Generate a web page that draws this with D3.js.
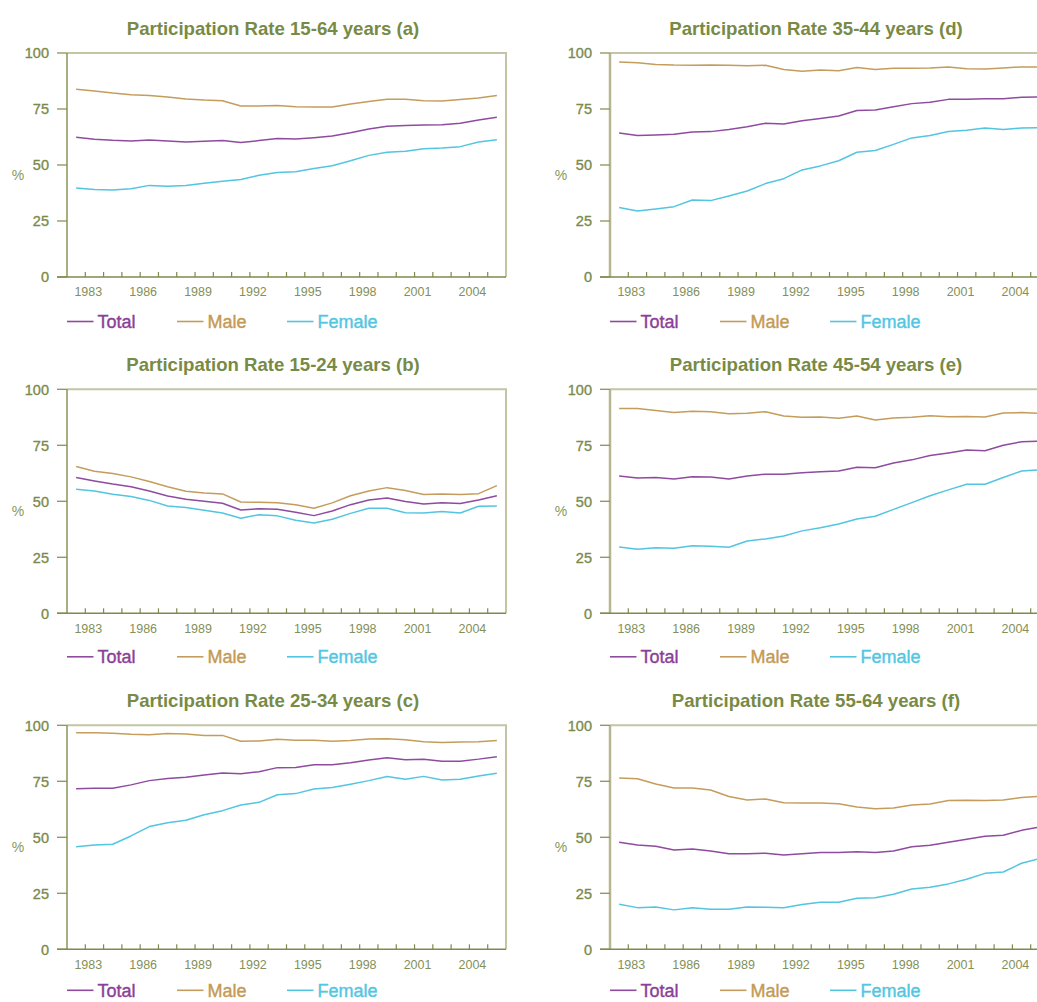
<!DOCTYPE html>
<html>
<head>
<meta charset="utf-8">
<script src="https://cdn.jsdelivr.net/npm/d3@7"></script>
<style>
  html, body { margin: 0; padding: 0; background: #fff; }
  svg { display: block; font-family: "Liberation Sans", Arial, Helvetica, sans-serif; }
</style>
</head>
<body>
<svg id="chart" width="1037" height="1002"></svg>
<script>
// Labour force participation rates by age group, 1982-2005 (%)
const years = d3.range(1982, 2006);
const yearLabels = [1983, 1986, 1989, 1992, 1995, 1998, 2001, 2004];
const yTicks = [0, 25, 50, 75, 100];
const seriesNames = ["Total", "Male", "Female"];

// 15-64 years
const total15_64  = [62.4,61.5,61.0,60.7,61.2,60.7,60.3,60.6,60.9,60.0,60.9,61.8,61.6,62.2,62.9,64.4,66.1,67.3,67.6,67.9,68.0,68.6,70.1,71.3];
const male15_64   = [83.8,83.0,82.1,81.4,81.0,80.4,79.5,79.0,78.7,76.3,76.3,76.6,76.0,75.9,75.9,77.2,78.3,79.3,79.3,78.7,78.6,79.2,79.9,81.0];
const female15_64 = [39.7,39.1,38.8,39.4,40.9,40.5,40.8,41.8,42.7,43.5,45.4,46.6,47.0,48.4,49.7,51.9,54.3,55.7,56.1,57.3,57.6,58.2,60.3,61.3];

// 15-24 years
const total15_24  = [60.6,59.1,57.7,56.5,54.6,52.4,50.9,50.0,49.1,46.1,46.7,46.4,45.1,43.6,45.7,48.5,50.6,51.5,49.9,48.8,49.4,49.0,50.6,52.5];
const male15_24   = [65.5,63.4,62.4,60.9,58.8,56.5,54.5,53.7,53.3,49.7,49.6,49.4,48.5,46.9,49.3,52.5,54.6,56.1,54.8,53.0,53.3,53.0,53.4,57.0];
const female15_24 = [55.4,54.6,53.1,52.1,50.4,47.9,47.2,46.0,44.8,42.4,44.0,43.5,41.5,40.3,42.0,44.6,46.9,46.9,44.9,44.8,45.5,44.8,47.8,47.9];

// 25-34 years
const total25_34  = [71.7,71.9,71.9,73.4,75.3,76.3,76.8,77.8,78.7,78.4,79.3,81.1,81.2,82.4,82.4,83.3,84.5,85.5,84.6,84.8,83.9,84.0,84.9,86.0];
const male25_34   = [96.7,96.7,96.4,96.0,95.8,96.3,96.1,95.4,95.5,92.9,93.0,93.8,93.3,93.3,92.9,93.2,93.9,94.0,93.5,92.7,92.3,92.6,92.7,93.2];
const female25_34 = [45.8,46.6,46.9,50.6,54.8,56.5,57.6,60.1,61.9,64.4,65.6,69.0,69.5,71.6,72.2,73.7,75.3,77.1,75.9,77.2,75.6,75.9,77.4,78.6];

// 35-44 years
const total35_44  = [64.3,63.2,63.4,63.7,64.7,64.9,65.8,67.1,68.6,68.3,69.8,70.8,71.9,74.3,74.6,76.0,77.4,78.0,79.3,79.3,79.6,79.6,80.2,80.4];
const male35_44   = [96.0,95.7,94.9,94.6,94.5,94.6,94.5,94.3,94.5,92.6,91.8,92.4,92.1,93.5,92.6,93.2,93.2,93.3,93.8,93.0,92.9,93.3,93.8,93.8];
const female35_44 = [31.0,29.5,30.4,31.4,34.4,34.1,36.2,38.4,41.7,43.9,47.8,49.6,51.9,55.7,56.5,59.2,62.1,63.2,65.0,65.5,66.5,65.9,66.5,66.7];

// 45-54 years
const total45_54  = [61.3,60.4,60.6,60.0,61.0,60.9,60.0,61.3,62.1,62.1,62.7,63.2,63.5,65.2,65.0,67.1,68.5,70.4,71.6,72.9,72.6,75.0,76.6,76.8];
const male45_54   = [91.4,91.4,90.5,89.6,90.2,90.0,89.1,89.3,90.0,88.1,87.5,87.6,87.1,88.1,86.3,87.2,87.5,88.2,87.8,87.9,87.6,89.4,89.6,89.3];
const female45_54 = [29.6,28.6,29.3,29.0,30.2,29.9,29.5,32.3,33.2,34.5,36.8,38.2,39.9,42.1,43.3,46.4,49.4,52.5,55.1,57.6,57.6,60.6,63.5,64.1];

// 55-64 years
const total55_64  = [47.8,46.6,46.0,44.3,44.8,43.9,42.7,42.7,42.9,42.1,42.7,43.2,43.2,43.5,43.2,43.9,45.8,46.5,47.8,49.1,50.5,50.9,53.1,54.6];
const male55_64   = [76.5,76.1,73.8,72.0,72.0,71.1,68.2,66.7,67.1,65.4,65.3,65.3,65.0,63.5,62.8,63.1,64.4,64.9,66.4,66.5,66.4,66.7,67.8,68.3];
const female55_64 = [20.1,18.6,18.9,17.6,18.6,17.9,17.9,18.9,18.8,18.6,20.0,21.0,21.0,22.8,23.0,24.6,26.9,27.7,29.2,31.3,33.9,34.5,38.4,40.5];

const panels = [
  { title: "Participation Rate 15-64 years (a)", col: 0, row: 0, series: [total15_64, male15_64, female15_64] },
  { title: "Participation Rate 15-24 years (b)", col: 0, row: 1, series: [total15_24, male15_24, female15_24] },
  { title: "Participation Rate 25-34 years (c)", col: 0, row: 2, series: [total25_34, male25_34, female25_34] },
  { title: "Participation Rate 35-44 years (d)", col: 1, row: 0, series: [total35_44, male35_44, female35_44] },
  { title: "Participation Rate 45-54 years (e)", col: 1, row: 1, series: [total45_54, male45_54, female45_54] },
  { title: "Participation Rate 55-64 years (f)", col: 1, row: 2, series: [total55_64, male55_64, female55_64] }
];

const lineColors  = ["#8e4b9f", "#c49d5c", "#52c5e0"];
const labelColors = ["#8b3f98", "#c49a55", "#52c6e2"];
const olive = "#7b8a4b";

const plotW = 439, plotH = 224;
const colLeft = [67, 610];
const rowTop = [53, 389.3, 725.3];
const legendOffset = [44.5, 43.5, 41];

const svg = d3.select("#chart");

const x = d3.scaleBand().domain(years).range([0, plotW]).paddingInner(0).paddingOuter(0);
const y = d3.scaleLinear().domain([0, 100]).range([plotH, 0]);

panels.forEach(p => {
  const g = svg.append("g")
    .attr("transform", `translate(${colLeft[p.col]},${rowTop[p.row]})`);

  // title
  g.append("text")
    .attr("x", 206)
    .attr("y", -25)
    .attr("dy", "0.35em")
    .attr("text-anchor", "middle")
    .attr("fill", "#788a45")
    .attr("font-weight", "bold")
    .attr("font-size", 18.6)
    .text(p.title);

  // frame: top and right edges
  g.append("path")
    .attr("d", `M0,0H${plotW}V${plotH}`)
    .attr("fill", "none")
    .attr("stroke", "#c3c5a5")
    .attr("stroke-width", 2);

  // left axis line
  g.append("line")
    .attr("x1", 0).attr("x2", 0)
    .attr("y1", 0).attr("y2", plotH)
    .attr("stroke", p.col === 0 ? "#8a9358" : "#b8b690")
    .attr("stroke-width", p.col === 0 ? 1.5 : 2.5);

  // y ticks and labels
  yTicks.forEach(t => {
    g.append("line")
      .attr("x1", -10).attr("x2", 0)
      .attr("y1", y(t)).attr("y2", y(t))
      .attr("stroke", "#8a9358")
      .attr("stroke-width", 1.3);
    g.append("text")
      .attr("x", -18)
      .attr("y", y(t))
      .attr("dy", "0.36em")
      .attr("text-anchor", "end")
      .attr("fill", olive)
      .attr("stroke", olive)
      .attr("stroke-width", 0.35)
      .attr("font-size", 14.5)
      .text(t);
  });

  // % label
  g.append("text")
    .attr("x", -49)
    .attr("y", plotH / 2 + 10)
    .attr("dy", "0.35em")
    .attr("text-anchor", "middle")
    .attr("fill", "#8a9760")
    .attr("font-size", 14)
    .text("%");

  // bottom axis line
  g.append("line")
    .attr("x1", -10).attr("x2", plotW)
    .attr("y1", plotH).attr("y2", plotH)
    .attr("stroke", "#7f8a4e")
    .attr("stroke-width", 1.5);

  // x ticks at band boundaries
  years.slice(1).forEach(yr => {
    const xx = x(yr);
    g.append("line")
      .attr("x1", xx).attr("x2", xx)
      .attr("y1", plotH - 5).attr("y2", plotH)
      .attr("stroke", "#7f8a4e")
      .attr("stroke-width", 1.2);
  });

  // x labels
  yearLabels.forEach(yr => {
    g.append("text")
      .attr("x", x(yr) + 3)
      .attr("y", plotH + 15)
      .attr("dy", "0.35em")
      .attr("text-anchor", "middle")
      .attr("fill", "#84905a")
      .attr("font-size", 12.5)
      .text(yr);
  });

  // series lines
  const line = d3.line()
    .x((d, i) => x(years[i]) + x.bandwidth() / 2)
    .y(d => y(d));

  p.series.forEach((s, k) => {
    g.append("path")
      .datum(s)
      .attr("d", line)
      .attr("fill", "none")
      .attr("stroke", lineColors[k])
      .attr("stroke-width", 1.5)
      .attr("stroke-linejoin", "round");
  });

  // legend
  const lg = g.append("g").attr("transform", `translate(0,${plotH + legendOffset[p.row]})`);
  seriesNames.forEach((name, k) => {
    const ox = k * 110;
    lg.append("line")
      .attr("x1", ox).attr("x2", ox + 26.5)
      .attr("y1", 0).attr("y2", 0)
      .attr("stroke", lineColors[k])
      .attr("stroke-width", 1.6);
    lg.append("text")
      .attr("x", ox + 30.5)
      .attr("y", 0)
      .attr("dy", "0.36em")
      .attr("fill", labelColors[k])
      .attr("stroke", labelColors[k])
      .attr("stroke-width", 0.4)
      .attr("font-size", 18)
      .text(name);
  });
});
</script>
</body>
</html>
